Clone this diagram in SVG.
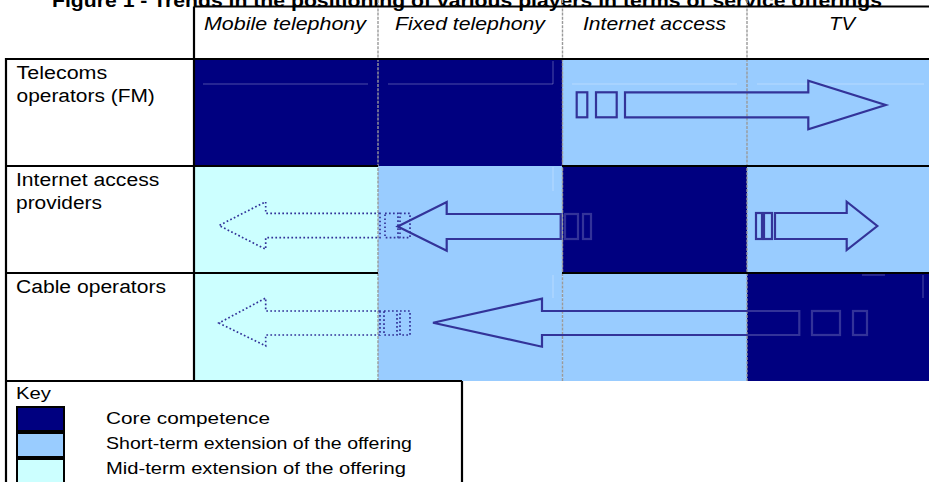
<svg xmlns="http://www.w3.org/2000/svg" width="929" height="482" viewBox="0 0 929 482">
<style>
text{font-family:"Liberation Sans",Arial,sans-serif;fill:#000}
.t{font-size:17.6px}
.h{font-size:18px;font-style:italic}
.k{font-size:16.6px}
.title{font-size:18px;font-weight:bold}
.navy{fill:#000080}
.lb{fill:#99CCFF}
.cy{fill:#CCFFFF}
.sep{stroke:#9a9a9a;stroke-width:1.4;stroke-dasharray:3 1.2;fill:none}
.rule{stroke:#000;stroke-width:2.2;fill:none}
.arr{fill:none;stroke:#333399;stroke-width:2.2;stroke-linejoin:miter}
.dot{fill:none;stroke:#333399;stroke-width:1.7;stroke-dasharray:1.7 2.3}
.faint{stroke:#fff;stroke-opacity:0.3;stroke-width:1;fill:none}
.sw{stroke:#000;stroke-width:2}
</style>
<rect width="929" height="482" fill="#fff"/>
<text class="title" x="52" y="7" textLength="830" lengthAdjust="spacingAndGlyphs">Figure 1 - Trends in the positioning of various players in terms of service offerings</text>

<g id="cells">
  <rect class="navy" x="194" y="59" width="184" height="107"/>
  <rect class="navy" x="378" y="59" width="184.5" height="107"/>
  <rect class="lb" x="562.5" y="59" width="184.5" height="107"/>
  <rect class="lb" x="747" y="59" width="182" height="107"/>
  <rect class="cy" x="194" y="166" width="184" height="107"/>
  <rect class="lb" x="378" y="166" width="184.5" height="107"/>
  <rect class="navy" x="562.5" y="166" width="184.5" height="107"/>
  <rect class="lb" x="747" y="166" width="182" height="107"/>
  <rect class="cy" x="194" y="273" width="184" height="108"/>
  <rect class="lb" x="378" y="273" width="184.5" height="108"/>
  <rect class="lb" x="562.5" y="273" width="184.5" height="108"/>
  <rect class="navy" x="747" y="273" width="182" height="108"/>
  <path class="faint" d="M203,84H368 M388,84H553 M553,61V84 M572,84H737 M757,84H924 M553,167V191 M553,275V298 M923,275V298 M862,275H885"/>
</g>

<g id="grid">
  <path class="sep" d="M378,0V381 M562.5,0V381 M747,0V381"/>
  <path class="rule" d="M194,6.5H929 M194,6.5V59 M194,59V381 M6,58V482 M6,166H378 M562,166H929 M6,273H378 M562,273H929 M5,381H462 M462,381V482"/>
  <path class="rule" stroke-width="2.6" d="M5,59H929"/>
</g>

<g id="header">
  <text class="h" x="204" y="30" textLength="162" lengthAdjust="spacingAndGlyphs">Mobile telephony</text>
  <text class="h" x="395" y="30" textLength="150" lengthAdjust="spacingAndGlyphs">Fixed telephony</text>
  <text class="h" x="583" y="30" textLength="143" lengthAdjust="spacingAndGlyphs">Internet access</text>
  <text class="h" x="829" y="30" textLength="26" lengthAdjust="spacingAndGlyphs">TV</text>
</g>

<g id="row-telecoms">
  <text class="t" x="16.5" y="79.3" textLength="90.7" lengthAdjust="spacingAndGlyphs">Telecoms</text>
  <text class="t" x="16.5" y="101.7" textLength="138.3" lengthAdjust="spacingAndGlyphs">operators (FM)</text>
</g>
<g id="row-isp">
  <text class="t" x="16" y="186" textLength="143.3" lengthAdjust="spacingAndGlyphs">Internet access</text>
  <text class="t" x="16" y="208.5" textLength="86" lengthAdjust="spacingAndGlyphs">providers</text>
</g>
<g id="row-cable">
  <text class="t" x="16" y="293.3" textLength="150" lengthAdjust="spacingAndGlyphs">Cable operators</text>
</g>

<g id="connectors">
  <rect class="arr" x="576.7" y="92.3" width="10.6" height="25"/>
  <rect class="arr" x="596" y="92.3" width="20.7" height="25"/>
  <polygon class="arr" points="625,92.3 808.3,92.3 808.3,80.7 885.7,105 808.3,129.3 808.3,117.3 625,117.3"/>

  <polygon class="dot" points="380,213.3 265.7,213.3 265.7,201.7 219,225.5 265.7,249.3 265.7,237.7 380,237.7"/>
  <rect class="dot" x="385" y="213.3" width="13" height="24.4"/>
  <rect class="dot" x="400" y="213.3" width="10" height="24.4"/>
  <polygon class="arr" points="560.7,214 446.7,214 446.7,202 397.7,226.5 446.7,250.7 446.7,239 560.7,239"/>
  <rect class="arr" x="565" y="214" width="13" height="25"/>
  <rect class="arr" x="583" y="214" width="8" height="25"/>
  <rect class="arr" x="756" y="213" width="6" height="26"/>
  <rect class="arr" x="764" y="213" width="8" height="26"/>
  <polygon class="arr" points="775,213 846.7,213 846.7,201.7 877.3,226 846.7,250 846.7,239 775,239"/>

  <polygon class="dot" points="380,311 265.7,311 265.7,298 219,323 265.7,346 265.7,335 380,335"/>
  <rect class="dot" x="384" y="311" width="13" height="24"/>
  <rect class="dot" x="400" y="311" width="10" height="24"/>
  <polygon class="arr" points="799.3,311 542,311 542,298.7 433,322.7 542,346.7 542,335 799.3,335"/>
  <rect class="arr" x="812" y="311" width="28" height="24"/>
  <rect class="arr" x="853" y="311" width="14" height="24"/>
</g>

<g id="key">
  <text class="k" x="16" y="399.3" textLength="35" lengthAdjust="spacingAndGlyphs">Key</text>
  <rect class="navy sw" x="17" y="407" width="47" height="24"/>
  <rect class="lb sw" x="17" y="433" width="47" height="24"/>
  <rect class="cy sw" x="17" y="459" width="47" height="26"/>
  <text class="k" x="106" y="424.3" textLength="164" lengthAdjust="spacingAndGlyphs">Core competence</text>
  <text class="k" x="106" y="449" textLength="306" lengthAdjust="spacingAndGlyphs">Short-term extension of the offering</text>
  <text class="k" x="106" y="474" textLength="300" lengthAdjust="spacingAndGlyphs">Mid-term extension of the offering</text>
</g>
</svg>
